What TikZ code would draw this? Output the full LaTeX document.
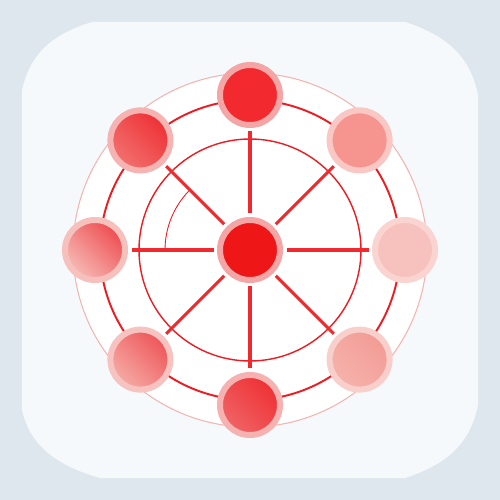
\documentclass[tikz,border=0pt]{standalone}
\usepackage{tikz}
\usepackage{xcolor}
\usetikzlibrary{positioning}
\definecolor{bgblue}{HTML}{DEE6EE}
\definecolor{panel}{HTML}{F6F9FB}
\definecolor{ringred}{HTML}{EE1C22}
\definecolor{palering}{HTML}{F4B4B2}
\definecolor{spokered}{HTML}{EE2A2E}
% fills and rims of the spots
\definecolor{hubfill}{HTML}{EE1616}
\definecolor{hubrim}{HTML}{F4A6A6}
\definecolor{upfill}{HTML}{F2292E}
\definecolor{uprim}{HTML}{F4A5A5}
\definecolor{uprfill}{HTML}{F6958F}
\definecolor{uprrim}{HTML}{F9C7C4}
\definecolor{rtfill}{HTML}{F7C2BD}
\definecolor{rtrim}{HTML}{FAD4D1}
\definecolor{dnrdark}{HTML}{F29C95}
\definecolor{dnrlight}{HTML}{F6B2AC}
\definecolor{dnrrim}{HTML}{F8CFCB}
\definecolor{dndark}{HTML}{EE3034}
\definecolor{dnlight}{HTML}{F06466}
\definecolor{dnrim}{HTML}{F5B2B1}
\definecolor{dnldark}{HTML}{EE5558}
\definecolor{dnllight}{HTML}{F5ACA6}
\definecolor{dnlrim}{HTML}{F6C3C0}
\definecolor{lfdark}{HTML}{EE4C50}
\definecolor{lflight}{HTML}{F6BBB6}
\definecolor{lfrim}{HTML}{F6C0BD}
\definecolor{upldark}{HTML}{EE3035}
\definecolor{upllight}{HTML}{F2716F}
\definecolor{uplrim}{HTML}{F5B3B2}
\tikzset{spot/.style={circle, inner sep=0pt, minimum size=1.2cm, line width=0.12cm},
faded/.style 2 args={top color=#1, bottom color=#2, shading angle=-45},
spoke/.style={spokered, line width=1.8pt, shorten <=0.07cm, shorten >=0.07cm},
orbit/.style={ringred}}

\begin{document}
\begin{tikzpicture}
\useasboundingbox (-5,-5) rectangle (5,5);
\fill[bgblue] (-5,-5) rectangle (5,5);
% panel with curved corners
\fill[panel] (-3.16,4.56) -- (3.1,4.56)
  .. controls (3.9,4.3) and (4.4,3.9) .. (4.56,3.1) -- (4.56,-3.1)
  .. controls (4.4,-3.9) and (3.9,-4.3) .. (3.1,-4.56) -- (-3.0,-4.56)
  .. controls (-3.9,-4.3) and (-4.4,-3.9) .. (-4.56,-3.2) -- (-4.56,3.2)
  .. controls (-4.4,3.9) and (-4.0,4.3) .. (-3.16,4.56) -- cycle;
\fill[white] (0,0) circle (3.54);
\draw[palering, line width=0.6pt] (0,0) circle (3.54);
\draw[orbit, line width=1.1pt] (0,0) circle (3.0);
\draw[orbit, line width=0.8pt] (0,0) circle (2.22);
\draw[orbit, line width=0.5pt] (180:1.7) arc (180:136:1.7);

\node[spot, fill=hubfill, draw=hubrim] (hub) at (0,0) {};
\node[spot, fill=upfill, draw=uprim] (up) at (90:3.1) {};
\node[spot, fill=uprfill, draw=uprrim] (upr) at (45:3.1) {};
\node[spot, fill=rtfill, draw=rtrim] (rt) at (0:3.1) {};
\node[spot, faded={dnrdark}{dnrlight}, draw=dnrrim] (dnr) at (-45:3.1) {};
\node[spot, faded={dndark}{dnlight}, draw=dnrim] (dn) at (-90:3.1) {};
\node[spot, faded={dnldark}{dnllight}, draw=dnlrim] (dnl) at (-135:3.1) {};
\node[spot, faded={lfdark}{lflight}, draw=lfrim] (lf) at (180:3.1) {};
\node[spot, faded={upldark}{upllight}, draw=uplrim] (upl) at (135:3.1) {};

\draw[spoke] (hub) -- (up);
\draw[spoke] (hub) -- (upr);
\draw[spoke] (hub) -- (rt);
\draw[spoke] (hub) -- (dnr);
\draw[spoke] (hub) -- (dn);
\draw[spoke] (hub) -- (dnl);
\draw[spoke] (hub) -- (lf);
\draw[spoke] (hub) -- (upl);
\end{tikzpicture}
\end{document}
